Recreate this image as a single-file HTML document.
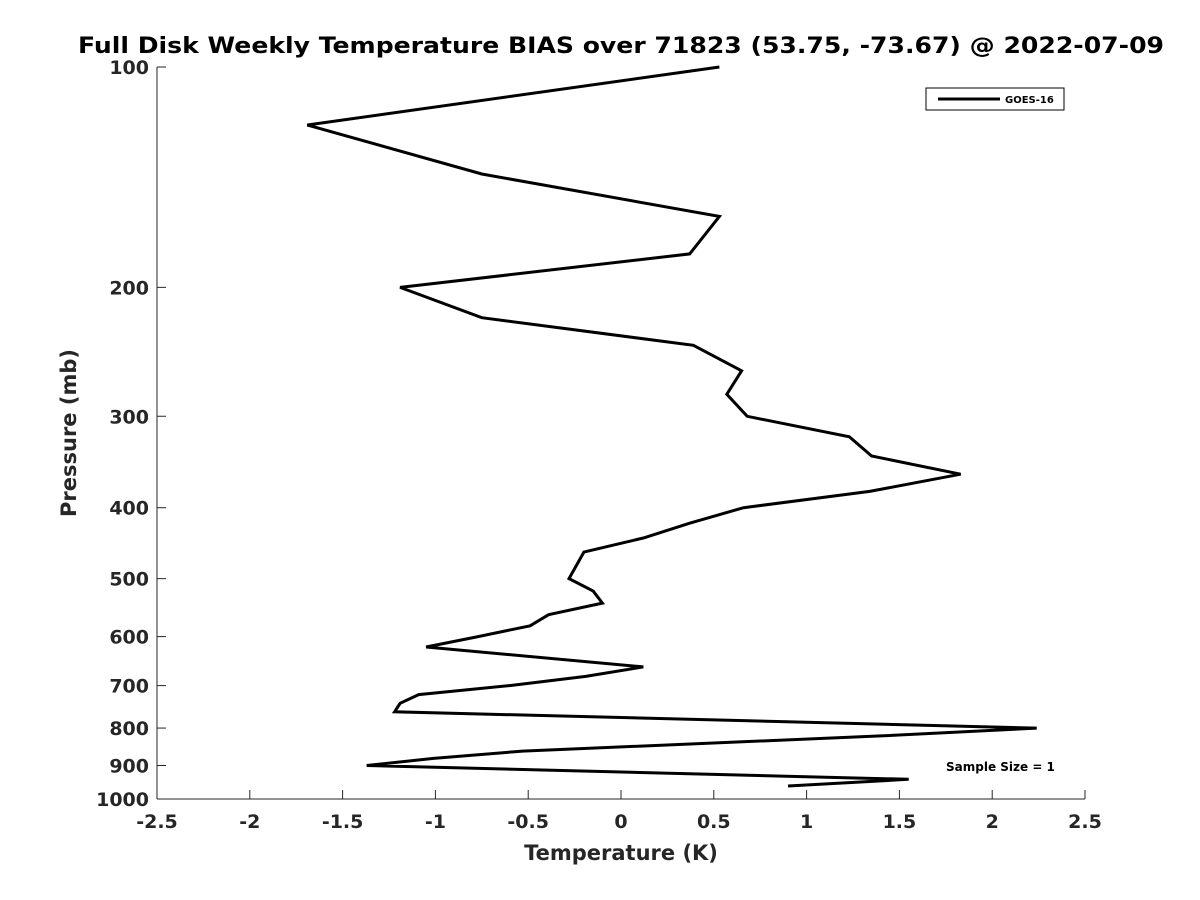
<!DOCTYPE html>
<html><head><meta charset="utf-8"><style>
body{margin:0;background:#fff}
svg{display:block;font-family:"DejaVu Sans","Liberation Sans",sans-serif}
</style></head><body>
<svg id="chart" width="1200" height="900">
<rect width="1200" height="900" fill="#fff"/>
<text x="621" y="53" text-anchor="middle" font-size="22" font-weight="bold" textLength="1086" lengthAdjust="spacingAndGlyphs">Full Disk Weekly Temperature BIAS over 71823 (53.75, -73.67) @ 2022-07-09</text>
<g id="axes"></g>
<g id="series"></g>
<g>
<rect x="926" y="88" width="138" height="22" fill="#fff" stroke="#000" stroke-width="1"/>
<line x1="938" y1="99" x2="1000" y2="99" stroke="#000" stroke-width="3"/>
<text x="1005" y="103" font-size="10" font-weight="bold">GOES-16</text>
</g>
<text x="946" y="771" font-size="12" font-weight="bold">Sample Size = 1</text>
<text x="621" y="860" text-anchor="middle" font-size="21" font-weight="bold" fill="#262626">Temperature (K)</text>
<text transform="translate(76,433) rotate(-90)" text-anchor="middle" font-size="21" font-weight="bold" fill="#262626">Pressure (mb)</text>
</svg>
<script>
const pressures=[100,120,140,160,180,200,220,240,260,280,300,320,340,360,380,400,420,440,460,500,520,540,560,580,600,620,660,680,700,720,740,760,800,820,860,880,900,940,960];
const temps=[0.53,-1.69,-0.75,0.53,0.37,-1.19,-0.75,0.39,0.65,0.57,0.68,1.23,1.35,1.83,1.34,0.66,0.37,0.12,-0.20,-0.28,-0.15,-0.10,-0.39,-0.49,-0.77,-1.05,0.12,-0.19,-0.60,-1.09,-1.19,-1.22,2.24,1.40,-0.53,-1.01,-1.37,1.55,0.90];
const xTicks=[-2.5,-2,-1.5,-1,-0.5,0,0.5,1,1.5,2,2.5];
const yTicks=[100,200,300,400,500,600,700,800,900,1000];
const X0=157,X1=1085,Y0=67,Y1=799;
function xs(v){return X0+(v+2.5)/5*(X1-X0);}
function ys(p){return Y0+(Math.log10(p)-2)*(Y1-Y0);}
const NS='http://www.w3.org/2000/svg';
const ax=document.getElementById('axes');
function mk(t,a,p){const e=document.createElementNS(NS,t);for(const k in a)e.setAttribute(k,a[k]);p.appendChild(e);return e;}
const xl=mk('line',{x1:X0,y1:Y1,x2:X1,y2:Y1,stroke:'#262626','stroke-width':1},ax);


const yl=mk('line',{x1:X0,y1:Y0,x2:X0,y2:Y1,stroke:'#262626','stroke-width':1},ax);


xTicks.forEach(v=>{
 const x=xs(v);
 const t=mk('line',{x1:x,y1:Y1,x2:x,y2:Y1-9,stroke:'#262626'},ax);
 
 
 const l=mk('text',{x:x,y:Y1+29,'text-anchor':'middle','font-size':19,'font-weight':'bold',fill:'#262626'},ax);
 
 
 l.textContent=String(v);
});
yTicks.forEach(p=>{
 const y=ys(p);
 const t=mk('line',{x1:X0,y1:y,x2:X0+9,y2:y,stroke:'#262626'},ax);
 
 
 const l=mk('text',{x:X0-8,y:y+7,'text-anchor':'end','font-size':19,'font-weight':'bold',fill:'#262626'},ax);
 
 
 l.textContent=String(p);
});
const pts=pressures.map((p,i)=>xs(temps[i]).toFixed(1)+','+ys(p).toFixed(1)).join(' ');
const pl=mk('polyline',{points:pts,fill:'none',stroke:'#000','stroke-width':3,'stroke-linejoin':'miter'},document.getElementById('series'));


</script>
</body></html>
